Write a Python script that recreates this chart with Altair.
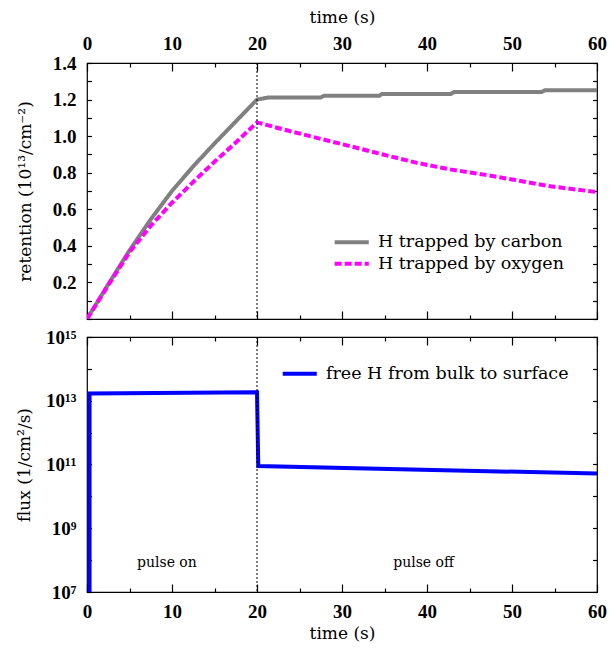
import altair as alt
import pandas as pd

# ---------------- data ----------------
t_carbon = [0, 2.5, 5, 7.5, 10, 12.5, 15, 17.5, 20, 21.4, 27.5, 27.9, 34.4, 34.7, 42.8, 43.2, 53.5, 53.9, 60]
v_carbon = [0, 0.19, 0.375, 0.545, 0.70, 0.835, 0.96, 1.08, 1.2, 1.212, 1.212, 1.221, 1.221, 1.231, 1.231, 1.242, 1.242, 1.251, 1.251]

t_oxygen = [0, 2.5, 5, 7.5, 10, 12.5, 15, 17.5, 20, 23, 26.9, 30.8, 34.7, 38.7, 42.6, 46.5, 50.4, 54.3, 60]
v_oxygen = [0, 0.185, 0.365, 0.51, 0.636, 0.75, 0.86, 0.965, 1.075, 1.038, 0.992, 0.947, 0.901, 0.855, 0.819, 0.791, 0.760, 0.727, 0.694]

t_flux = [0.3, 0.3, 20.0, 20.15, 60.0]
v_flux = [1e7, 1.7e13, 1.85e13, 8.9e10, 5.2e10]

lab_c = "H trapped by carbon"
lab_o = "H trapped by oxygen"
lab_f = "free H from bulk to surface"

pulse_t = [9.4, 39.6]
pulse_v = [8e7, 8e7]
pulse_text = ["pulse on", "pulse off"]
vline_t = [20]

x_major = [0, 10, 20, 30, 40, 50, 60]
x_minor = [5, 15, 25, 35, 45, 55]
ret_ticks = [round(i * 0.1, 1) for i in range(15)]
flux_ticks = [10 ** k for k in range(7, 16)]

# ---------------- styling ----------------
TXT = "DejaVu Serif"
NUM = "Liberation Serif"
W, H1, H2 = 510, 256, 255
MAJ, MIN, YT = 8, 4, 4.5
TICKC = "black"
TICKW = 1.2
LEG_SYMBOL = "M-3.1,0H3.1"

df_top = pd.DataFrame({
    "t": t_carbon + t_oxygen,
    "v": v_carbon + v_oxygen,
    "s": [lab_c] * len(t_carbon) + [lab_o] * len(t_oxygen),
})
df_bot = pd.DataFrame({"t": t_flux, "v": v_flux, "s": [lab_f] * len(t_flux)})
df_pulse = pd.DataFrame({"t": pulse_t, "v": pulse_v, "txt": pulse_text})
df_vline = pd.DataFrame({"t": vline_t})


def xax(orient, values, size, labels=False, title=None, tpad=8):
    kw = dict(orient=orient, values=values, tickSize=size, offset=-size, domain=False,
              grid=False, labels=labels, tickColor=TICKC, tickWidth=TICKW, labelFlush=False,
              labelFont=NUM, labelFontWeight="bold", labelFontSize=19, labelColor="black",
              labelPadding=10, titleFont=TXT, titleFontWeight="normal", titleFontSize=17,
              titleColor="black", titlePadding=tpad)
    return alt.Axis(title=title, **kw)


def yax(orient, values, labels=False, title=None, expr=None, tpad=12):
    kw = dict(orient=orient, values=values, tickSize=YT, offset=-YT, domain=False,
              grid=False, labels=labels, tickColor=TICKC, tickWidth=TICKW, labelFlush=False,
              labelFont=NUM, labelFontWeight="bold", labelFontSize=19, labelColor="black",
              labelPadding=11, titleFont=TXT, titleFontWeight="normal", titleFontSize=17,
              titleColor="black", titlePadding=tpad)
    if expr is not None:
        kw["labelExpr"] = expr
    return alt.Axis(title=title, **kw)


def panel(df, xs, ys, h, xlab_orient, ytitle, yvals, yexpr, main_layer_fn, extra, tpad, xtpad):
    other = "bottom" if xlab_orient == "top" else "top"
    base = alt.Chart(df)
    l1 = main_layer_fn(base, alt.X("t:Q", scale=xs, axis=xax(xlab_orient, x_major, MAJ, True, "time (s)", xtpad)),
                       alt.Y("v:Q", scale=ys, axis=yax("left", yvals, True, ytitle, yexpr, tpad)))
    l2 = base.mark_line(opacity=0).encode(
        x=alt.X("t:Q", scale=xs, axis=xax(other, x_major, MAJ)),
        y=alt.Y("v:Q", scale=ys, axis=yax("right", yvals)))
    l3 = base.mark_line(opacity=0).encode(
        x=alt.X("t:Q", scale=xs, axis=xax(xlab_orient, x_minor, MIN)),
        y=alt.Y("v:Q", scale=ys, axis=None))
    l4 = base.mark_line(opacity=0).encode(
        x=alt.X("t:Q", scale=xs, axis=xax(other, x_minor, MIN)),
        y=alt.Y("v:Q", scale=ys, axis=None))
    vl = alt.Chart(df_vline).mark_rule(color="black", strokeWidth=1, strokeDash=[2, 2]).encode(
        x=alt.X("t:Q", scale=xs, axis=None))
    layers = [l1, l2, l3, l4, vl] + extra
    return alt.layer(*layers).resolve_axis(x="independent", y="independent").properties(width=W, height=h)


xs = alt.Scale(domain=[0, 60], nice=False, zero=False)
ys_top = alt.Scale(domain=[0, 1.4], nice=False, zero=False)
ys_bot = alt.Scale(type="log", domain=[1e7, 1e15], nice=False)


def leg(x, y):
    return alt.Legend(title=None, orient="none", legendX=x, legendY=y,
                      symbolType=LEG_SYMBOL, symbolSize=121, symbolStrokeWidth=4,
                      labelFont=TXT, labelFontSize=17.5, labelColor="black",
                      rowPadding=2.5, labelOffset=17.5, labelLimit=400)


def top_lines(base, x, y):
    return base.mark_line(strokeWidth=4, clip=True).encode(
        x=x, y=y,
        color=alt.Color("s:N", scale=alt.Scale(domain=[lab_c, lab_o], range=["#808080", "#ff00ff"]),
                        legend=leg(256, 170.5)),
        strokeDash=alt.StrokeDash("s:N", scale=alt.Scale(domain=[lab_c, lab_o], range=[[1, 0], [7, 3]]),
                                  legend=leg(256, 170.5)),
        order=alt.Order("t:Q"),
    )


def bot_lines(base, x, y):
    return base.mark_line(strokeWidth=4, clip=True).encode(
        x=x, y=y,
        color=alt.Color("s:N", scale=alt.Scale(domain=[lab_f], range=["#0000ff"]), legend=leg(204, 28)),
        order=alt.Order("t:Q"),
    )


ret_expr = "(round(datum.value*10) % 2 == 0 && datum.value > 0.05) ? format(datum.value, '.1f') : ''"
flux_expr = ("round(log(datum.value)/LN10) == 7 ? '10⁷' : round(log(datum.value)/LN10) == 9 ? '10⁹' : "
             "round(log(datum.value)/LN10) == 11 ? '10¹¹' : round(log(datum.value)/LN10) == 13 ? '10¹³' : "
             "round(log(datum.value)/LN10) == 15 ? '10¹⁵' : ''")

pulse = alt.Chart(df_pulse).mark_text(font=TXT, fontSize=14, color="black").encode(
    x=alt.X("t:Q", scale=xs, axis=None),
    y=alt.Y("v:Q", scale=ys_bot, axis=None),
    text="txt:N",
)

top = panel(df_top, xs, ys_top, H1, "top", "retention (10¹³/cm⁻²)", ret_ticks, ret_expr, top_lines, [], 18, 8)
bot = panel(df_bot, xs, ys_bot, H2, "bottom", "flux (1/cm²/s)", flux_ticks, flux_expr, bot_lines, [pulse], 12, 4)

chart = alt.vconcat(top, bot, spacing=18, bounds="flush").resolve_scale(
    color="independent", strokeDash="independent"
).properties(
    padding={"left": 15, "top": 7, "right": 0, "bottom": 5}, background="white"
).configure_view(stroke="black", strokeWidth=1.2)

chart.save("out.html", embed_options={"renderer": "svg", "actions": False})
